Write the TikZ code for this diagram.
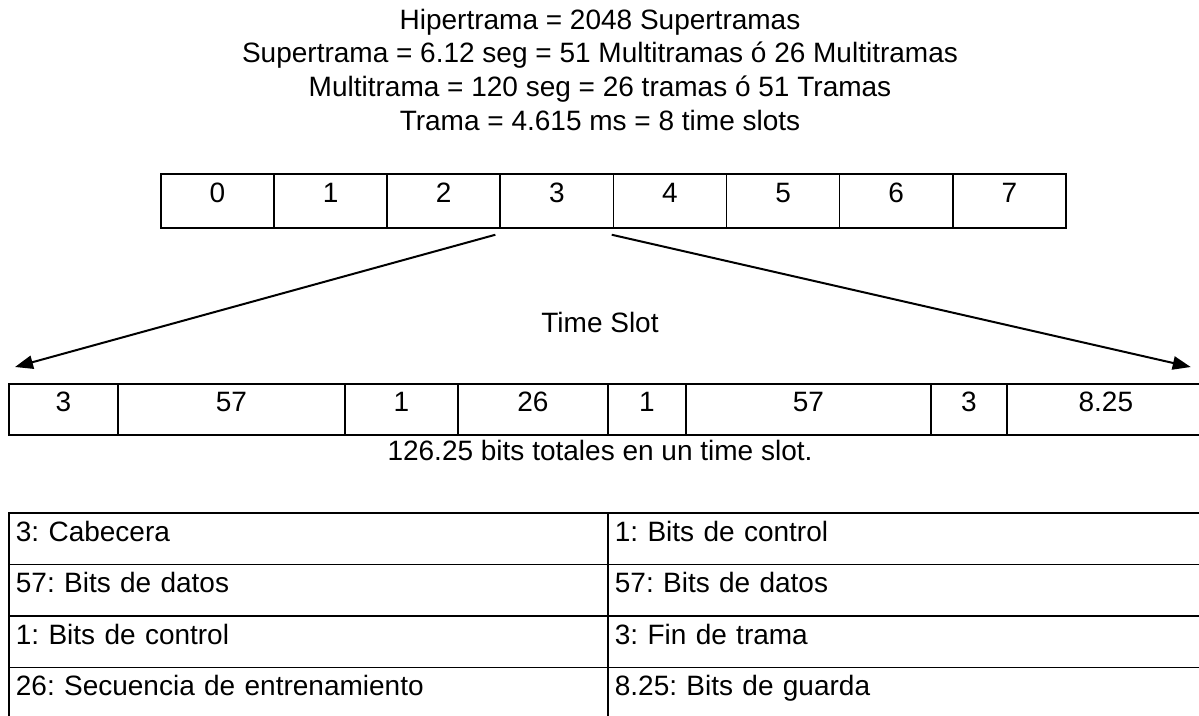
\documentclass[tikz,border=0pt]{standalone}
\usepackage{fontspec}
\setmainfont{Liberation Sans}
\usetikzlibrary{arrows.meta, calc}

\begin{document}
\begin{tikzpicture}[x=0.75pt, y=-0.75pt,
    every node/.style={font=\fontsize{21}{25}\selectfont\frenchspacing, inner sep=0pt},
    frame/.style={draw, line width=1.3pt, anchor=north west, minimum width=84.84pt,
        text height=21.75pt, text depth=18.75pt},
    slot/.style={draw, line width=1.3pt, anchor=north west, text height=21pt, text depth=17.25pt},
    row/.style={draw, line width=1.3pt, anchor=north west, align=left, text width=438.75pt,
        inner xsep=5.25pt, text height=21.4pt, text depth=17.25pt},
    zoomline/.style={line width=1.5pt, -{Triangle[length=13.5pt, width=10pt]}}]
    \useasboundingbox (0,0) rectangle (1199,715);
    \clip (0,0) rectangle (1199,715);

    % Definitions
    \foreach \txt [count=\i from 0] in {Hipertrama = 2048 Supertramas,
        Supertrama = 6.12 seg = 51 Multitramas ó 26 Multitramas,
        Multitrama = 120 seg = 26 tramas ó 51 Tramas,
        Trama = 4.615 ms = 8 time slots}
        \node[anchor=base] (def\i) at (600,29+33.7*\i) {\txt};

    % Frame of 8 time slots
    \foreach \i in {0,...,7}
        \node[frame] (f\i) at (160+113.125*\i,173) {\i};

    % One time slot
    \foreach \l/\r/\t [count=\i] in {8/117/3, 117/344/57, 344/457/1, 457/607/26,
        607/685/1, 685/930/57, 930/1006/3, 1006/1204/8.25}
        \node[slot, minimum width={(\r-\l)*0.75pt}] (s\i) at (\l,383) {\t};
    \node[anchor=base] (ts) at (600,332) {Time Slot};
    \node[anchor=base] (total) at (600,460) {126.25 bits totales en un time slot.};

    % Zoom arrows
    \coordinate (za) at ($(f3.south west)+(-4,6)$);
    \coordinate (zb) at ($(f3.south east)+(-2.5,6)$);
    \coordinate (ea) at ($(s1.north west)+(7,-16)$);
    \coordinate (eb) at ($(s8.north east)+(-15,-16)$);
    \draw[zoomline] (za) -- (ea);
    \draw[zoomline] (zb) -- (eb);

    % Legend
    \foreach \a/\b [count=\r from 0] in {3: Cabecera/1: Bits de control,
        57: Bits de datos/57: Bits de datos,
        1: Bits de control/3: Fin de trama,
        26: Secuencia de entrenamiento/8.25: Bits de guarda}
    {
        \node[row] (la\r) at (8,512+51.5*\r) {\a};
        \node[row] (lb\r) at (607,512+51.5*\r) {\b};
    }
\end{tikzpicture}
\end{document}
